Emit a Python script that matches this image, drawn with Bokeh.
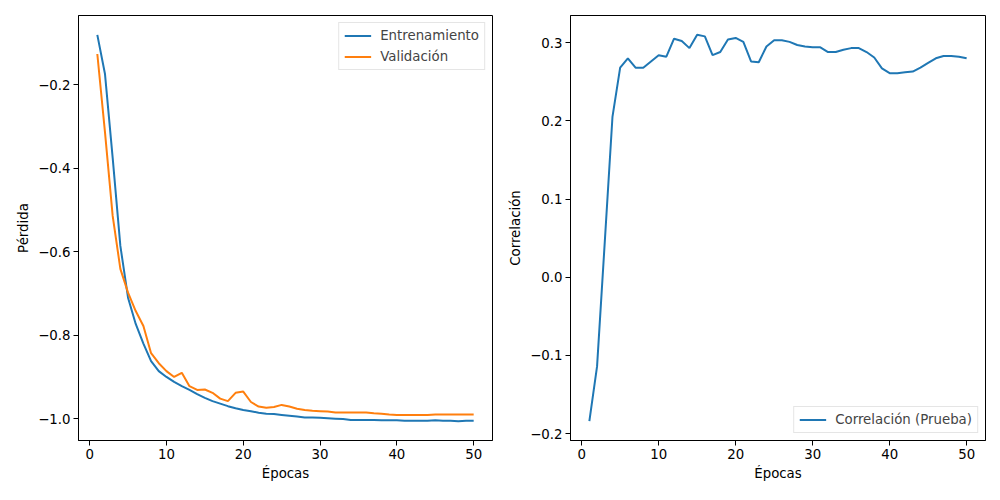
from bokeh.plotting import figure
from bokeh.layouts import row
from bokeh.models import Range1d, FixedTicker, CustomJSTickFormatter
from bokeh.embed import file_html
from bokeh.resources import INLINE

# data
epochs = list(range(1, 51))
train_loss = [-0.080, -0.174, -0.375, -0.586, -0.710, -0.773, -0.820, -0.862, -0.886, -0.900,
              -0.912, -0.922, -0.931, -0.941, -0.950, -0.958, -0.964, -0.970, -0.975, -0.979,
              -0.982, -0.986, -0.988, -0.989, -0.991, -0.993, -0.995, -0.997, -0.997, -0.998,
              -0.999, -1.000, -1.001, -1.003, -1.003, -1.003, -1.003, -1.004, -1.004, -1.004,
              -1.005, -1.005, -1.005, -1.005, -1.004, -1.005, -1.005, -1.006, -1.005, -1.005]
val_loss = [-0.126, -0.314, -0.514, -0.641, -0.698, -0.742, -0.778, -0.843, -0.867, -0.886,
            -0.900, -0.890, -0.922, -0.931, -0.930, -0.938, -0.952, -0.958, -0.938, -0.935,
            -0.960, -0.971, -0.974, -0.972, -0.967, -0.971, -0.976, -0.979, -0.981, -0.982,
            -0.983, -0.985, -0.985, -0.985, -0.985, -0.985, -0.987, -0.988, -0.990, -0.991,
            -0.991, -0.991, -0.991, -0.991, -0.990, -0.990, -0.990, -0.990, -0.990, -0.990]
corr = [-0.184, -0.114, 0.045, 0.205, 0.268, 0.280, 0.268, 0.268, 0.276, 0.284,
        0.282, 0.305, 0.302, 0.293, 0.310, 0.308, 0.284, 0.288, 0.304, 0.306,
        0.301, 0.276, 0.275, 0.295, 0.303, 0.303, 0.301, 0.297, 0.295, 0.294,
        0.294, 0.288, 0.288, 0.291, 0.293, 0.293, 0.288, 0.281, 0.267, 0.261,
        0.261, 0.262, 0.263, 0.268, 0.274, 0.280, 0.283, 0.283, 0.282, 0.280]

x_ticks = [0, 10, 20, 30, 40, 50]
loss_ticks = [-1.0, -0.8, -0.6, -0.4, -0.2]
corr_ticks = [-0.2, -0.1, 0.0, 0.1, 0.2, 0.3]

BLUE = "#1f77b4"
ORANGE = "#ff7f0e"
FONT = "DejaVu Sans"


def padded(values, frac=0.05):
    lo, hi = min(values), max(values)
    pad = (hi - lo) * frac
    return Range1d(lo - pad, hi + pad)


def style(p, xlabel, ylabel, yticks):
    p.xgrid.visible = False
    p.ygrid.visible = False
    p.outline_line_color = "black"
    p.outline_line_width = 1
    p.outline_line_alpha = 1
    p.xaxis.ticker = FixedTicker(ticks=x_ticks)
    p.yaxis.ticker = FixedTicker(ticks=yticks)
    p.xaxis.formatter = CustomJSTickFormatter(code="return tick.toFixed(0).replace('-', '\u2212');")
    p.yaxis.formatter = CustomJSTickFormatter(code="return tick.toFixed(1).replace('-', '\u2212');")
    p.xaxis.axis_label = xlabel
    p.yaxis.axis_label = ylabel
    for ax in (p.xaxis, p.yaxis):
        ax.axis_line_color = "black"
        ax.major_tick_line_color = "black"
        ax.major_tick_in = 0
        ax.major_tick_out = 5
        ax.minor_tick_line_color = None
        ax.major_label_text_font = FONT
        ax.major_label_text_font_size = "10pt"
        ax.major_label_text_color = "black"
        ax.major_label_standoff = 3
        ax.axis_label_text_font = FONT
        ax.axis_label_text_font_size = "10pt"
        ax.axis_label_text_font_style = "normal"
        ax.axis_label_text_color = "black"
        ax.axis_label_standoff = 4


def style_legend(leg, loc):
    leg.location = loc
    leg.label_text_font = FONT
    leg.label_text_font_size = "10pt"
    leg.border_line_color = "#cccccc"
    leg.background_fill_alpha = 0.8
    leg.padding = 5
    leg.margin = 7
    leg.spacing = 6
    leg.label_height = 15
    leg.glyph_height = 15
    leg.glyph_width = 27
    leg.label_standoff = 9


p1 = figure(width=505, height=492, output_backend="svg", toolbar_location=None,
            x_range=padded(epochs), y_range=padded(train_loss + val_loss),
            min_border_left=78, min_border_right=13, min_border_top=15, min_border_bottom=52,
            background_fill_color="white", border_fill_color="white")
p1.line(epochs, train_loss, color=BLUE, line_width=2, legend_label="Entrenamiento")
p1.line(epochs, val_loss, color=ORANGE, line_width=2, legend_label="Validación")
style(p1, "Épocas", "Pérdida", loss_ticks)
style_legend(p1.legend[0], "top_right")

p2 = figure(width=495, height=492, output_backend="svg", toolbar_location=None,
            x_range=padded(epochs), y_range=padded(corr),
            min_border_left=62, min_border_right=15, min_border_top=15, min_border_bottom=52,
            background_fill_color="white", border_fill_color="white")
p2.line(epochs, corr, color=BLUE, line_width=2, legend_label="Correlación (Prueba)")
style(p2, "Épocas", "Correlación", corr_ticks)
style_legend(p2.legend[0], "bottom_right")

layout = row(p1, p2)
open("out.html", "w").write(file_html(layout, INLINE))
